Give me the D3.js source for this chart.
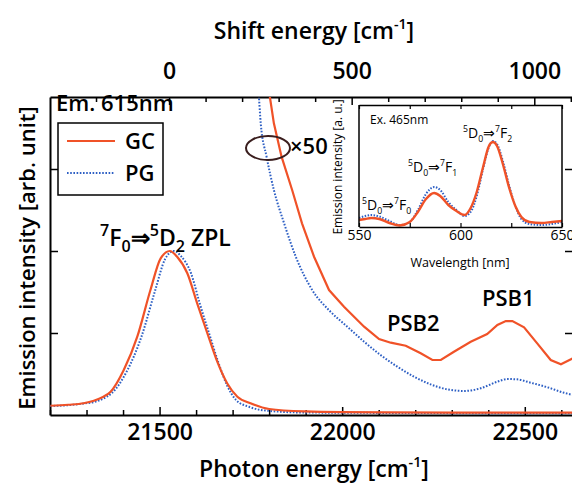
<!DOCTYPE html>
<html><head><meta charset="utf-8">
<script src="https://cdn.jsdelivr.net/npm/d3@7"></script>
<style>
html,body{margin:0;padding:0;background:#fff;}
svg{display:block;font-family:"Open Sans",sans-serif;font-weight:600;}
</style></head>
<body>
<svg id="c" width="572" height="485"></svg>
<script>
// ---- main plot data (photon energy cm^-1, intensity arb. unit) ----
const gcEnergy = [21201,21250,21292,21320,21345,21366,21402,21439,21475,21503,21528,21548,21576,21603,21631,21658,21685,21713,21749,21800,21900,22000,22300,22632];
const gcIntensity = [0.113,0.125,0.143,0.174,0.22,0.284,0.549,0.955,1.524,1.911,2.0,1.93,1.728,1.362,0.996,0.65,0.387,0.223,0.143,0.073,0.043,0.035,0.03,0.028];
const pgEnergy = [21201,21250,21292,21330,21350,21370,21410,21450,21488,21515,21539,21558,21586,21610,21636,21661,21685,21710,21745,21800,21900,22632];
const pgIntensity = [0.11,0.12,0.14,0.17,0.21,0.27,0.53,0.95,1.52,1.9,2.0,1.94,1.73,1.36,0.99,0.64,0.36,0.18,0.1,0.05,0.03,0.02];
// x50 magnified tails
const gc50Energy = [21790,21802,21813,21834,21863,21890,21923,21964,22005,22060,22101,22133,22174,22215,22247,22270,22306,22352,22397,22425,22448,22466,22498,22534,22571,22599,22632];
const gc50Intensity = [4.3,3.88,3.557,3.15,2.744,2.338,1.93,1.524,1.321,1.077,0.927,0.882,0.845,0.752,0.671,0.671,0.772,0.894,0.988,1.098,1.146,1.146,1.07,0.874,0.671,0.618,0.691];
const pg50Energy = [21762,21772,21777,21793,21813,21841,21873,21918,21968,22014,22060,22105,22151,22197,22242,22288,22334,22379,22425,22452,22479,22516,22562,22607,22632];
const pg50Intensity = [4.4,3.88,3.557,3.15,2.744,2.338,1.93,1.524,1.26,1.077,0.894,0.732,0.589,0.467,0.374,0.313,0.293,0.326,0.406,0.439,0.435,0.394,0.338,0.272,0.244];
const bottomTicks = [21500,22000,22500];
const topTicks = [0,500,1000];
const zplEnergy = 21526; // shift energy origin

// ---- inset data (wavelength nm, emission intensity a.u.) ----
const insetWavelength = [550,553,556,560,565,570,575,579,583,587,590,594,598,602,605,608,611,614,616,618,621,624,627,630,634,640,645,650];
const insetGC = [7,8,9,8,4,1.5,5,15,28,34,31,22,16,12,19,35,59,81,85,81,62,39,21,10,5,4,5,6];
const insetPG = [9,11,12,10.5,6,2,5,17,33,40,37,25,17,11,15,31,57,80,86,83,65,41,21,8,3,2,3,5];
const insetTicks = [550,600,650];

const RED = "#f05228", BLUE = "#2d5fc4";
const svg = d3.select("#c");

const L = 50, R = 573, T = 97, B = 415;
const x = d3.scaleLinear().domain([21200, 22632]).range([L, R]);
const xTop = d3.scaleLinear().domain([21200 - zplEnergy, 22632 - zplEnergy]).range([L, R]);
const y = d3.scaleLinear().domain([0, (B - T) / 82]).range([B, T]);

svg.append("defs").append("clipPath").attr("id", "clipMain")
  .append("rect").attr("x", L).attr("y", T).attr("width", R - L).attr("height", B - T);

// axes
const range100 = (a, b) => d3.range(Math.ceil(a / 100) * 100, b + 1, 100);
const gB = svg.append("g").attr("transform", `translate(0,${B})`)
  .call(d3.axisBottom(x).tickValues(range100(21200, 22632)).tickSizeInner(-5).tickSizeOuter(0).tickPadding(9)
    .tickFormat(d => bottomTicks.includes(d) ? d : ""));
gB.selectAll(".tick line").attr("y2", d => bottomTicks.includes(d) ? -8 : -5);
const gT = svg.append("g").attr("transform", `translate(0,${T})`)
  .call(d3.axisTop(xTop).tickValues(range100(21200 - zplEnergy, 22632 - zplEnergy)).tickSizeInner(-5).tickSizeOuter(0).tickPadding(18)
    .tickFormat(d => topTicks.includes(d) ? d : ""));
gT.selectAll(".tick line").attr("y2", d => topTicks.includes(d) ? 8 : 5);
const gL = svg.append("g").attr("transform", `translate(${L},0)`)
  .call(d3.axisLeft(y).tickValues([1, 2, 3]).tickSizeInner(-8).tickSizeOuter(0).tickFormat(""));
const gR = svg.append("g").attr("transform", `translate(${R},0)`)
  .call(d3.axisRight(y).tickValues([1, 2, 3]).tickSizeInner(-8).tickSizeOuter(0).tickFormat(""));
[gB, gT, gL, gR].forEach(g => {
  g.select(".domain").attr("stroke", "#000").attr("stroke-width", 2);
  g.selectAll(".tick line").attr("stroke", "#000").attr("stroke-width", 1.5);
  g.selectAll("text").attr("fill", "#000").attr("font-size", 23).attr("font-family", "'Open Sans',sans-serif").attr("font-weight", 600);
});
gT.selectAll("text").attr("dy", "0em");

// curves
const line = (xs, ys, sx, sy, curve) => d3.line().x(d => sx(d[0])).y(d => sy(d[1])).curve(curve || d3.curveLinear)(xs.map((v, i) => [v, ys[i]]));
const gC = svg.append("g").attr("clip-path", "url(#clipMain)");
gC.append("path").attr("d", line(pgEnergy, pgIntensity, x, y, d3.curveMonotoneX)).attr("fill", "none").attr("stroke", BLUE).attr("stroke-width", 2).attr("stroke-dasharray", "1.6,1.6");
gC.append("path").attr("d", line(pg50Energy, pg50Intensity, x, y, d3.curveMonotoneX)).attr("fill", "none").attr("stroke", BLUE).attr("stroke-width", 2).attr("stroke-dasharray", "1.6,1.6");
gC.append("path").attr("d", line(gcEnergy, gcIntensity, x, y, d3.curveMonotoneX)).attr("fill", "none").attr("stroke", RED).attr("stroke-width", 2.2);
gC.append("path").attr("d", line(gc50Energy, gc50Intensity, x, y)).attr("fill", "none").attr("stroke", RED).attr("stroke-width", 2.2);

// rich text helper
function rich(g, px, py, size, parts, opts = {}) {
  const t = g.append("text").attr("x", px).attr("y", py).attr("font-size", size).attr("fill", "#000");
  if (opts.anchor) t.attr("text-anchor", opts.anchor);
  if (opts.weight) t.attr("font-weight", opts.weight);
  const r = opts.ratio || 0.62;
  let cur = 0;
  parts.forEach(([s, k]) => {
    const off = k === "sup" ? -0.42 * size : k === "sub" ? 0.25 * size : 0;
    const ts = t.append("tspan").text(s).attr("dy", off - cur);
    if (k !== "n") ts.attr("font-size", size * r);
    cur = off;
  });
  return t;
}

// axis titles
rich(svg, 314, 39, 23, [["Shift energy [cm", "n"], ["-1", "sup"], ["]", "n"]], { anchor: "middle" });
rich(svg, 314, 477, 23, [["Photon energy [cm", "n"], ["-1", "sup"], ["]", "n"]], { anchor: "middle" });
svg.append("text").attr("transform", "translate(35,258) rotate(-90)").attr("text-anchor", "middle")
  .attr("font-size", 22).text("Emission intensity [arb. unit]");

// labels
svg.append("text").attr("x", 56).attr("y", 111).attr("font-size", 22).text("Em. 615nm");
svg.append("rect").attr("x", 58).attr("y", 123).attr("width", 105).attr("height", 72).attr("fill", "none").attr("stroke", "#000").attr("stroke-width", 1.5);
svg.append("line").attr("x1", 67).attr("x2", 115).attr("y1", 141).attr("y2", 141).attr("stroke", RED).attr("stroke-width", 2.2);
svg.append("line").attr("x1", 67).attr("x2", 115).attr("y1", 173).attr("y2", 173).attr("stroke", BLUE).attr("stroke-width", 2).attr("stroke-dasharray", "1.6,1.6");
svg.append("text").attr("x", 125).attr("y", 149).attr("font-size", 22).text("GC");
svg.append("text").attr("x", 125).attr("y", 181).attr("font-size", 22).text("PG");

rich(svg, 100, 246, 23, [["7", "sup"], ["F", "n"], ["0", "sub"], ["⇒", "n"], ["5", "sup"], ["D", "n"], ["2", "sub"], [" ZPL", "n"]], { ratio: 0.7 });
svg.append("text").attr("x", 387).attr("y", 331).attr("font-size", 22).text("PSB2");
svg.append("text").attr("x", 482).attr("y", 306).attr("font-size", 22).text("PSB1");
svg.append("ellipse").attr("cx", 268).attr("cy", 148).attr("rx", 22).attr("ry", 12).attr("fill", "none").attr("stroke", "#3a1e1e").attr("stroke-width", 2);
svg.append("text").attr("x", 290).attr("y", 154).attr("font-size", 22).text("×50");

// ---- inset ----
const IL = 359, IR = 562, IT = 105, IB = 227;
const xi = d3.scaleLinear().domain([550, 650]).range([IL, IR]);
const yi = d3.scaleLinear().domain([0, 122]).range([IB, IT]);
const gI = svg.append("g");
gI.append("rect").attr("x", IL).attr("y", IT).attr("width", IR - IL).attr("height", IB - IT).attr("fill", "#fff");
gI.append("defs").append("clipPath").attr("id", "clipIn").append("rect").attr("x", IL).attr("y", IT).attr("width", IR - IL).attr("height", IB - IT + 2);
const gIC = gI.append("g").attr("clip-path", "url(#clipIn)");
gIC.append("path").attr("d", line(insetWavelength, insetPG, xi, yi, d3.curveMonotoneX)).attr("fill", "none").attr("stroke", BLUE).attr("stroke-width", 2).attr("stroke-dasharray", "1.5,1.5");
gIC.append("path").attr("d", line(insetWavelength, insetGC, xi, yi, d3.curveMonotoneX)).attr("fill", "none").attr("stroke", RED).attr("stroke-width", 2.4);
const giB = gI.append("g").attr("transform", `translate(0,${IB})`)
  .call(d3.axisBottom(xi).tickValues([550, 575, 600, 625, 650]).tickSizeInner(-4).tickSizeOuter(0).tickPadding(3)
    .tickFormat(d => insetTicks.includes(d) ? d : ""));
const giT = gI.append("g").attr("transform", `translate(0,${IT})`)
  .call(d3.axisTop(xi).tickValues([550, 575, 600, 625, 650]).tickSizeInner(-4).tickSizeOuter(0).tickFormat(""));
[giB, giT].forEach(g => {
  g.select(".domain").attr("stroke", "#000").attr("stroke-width", 1.5);
  g.selectAll(".tick line").attr("stroke", "#000").attr("stroke-width", 1.2);
  g.selectAll("text").attr("fill", "#000").attr("font-size", 14).attr("font-family", "'Open Sans',sans-serif").attr("font-weight", 500);
});
gI.append("line").attr("x1", IL).attr("x2", IL).attr("y1", IT).attr("y2", IB).attr("stroke", "#000").attr("stroke-width", 1.5);
gI.append("line").attr("x1", IR).attr("x2", IR).attr("y1", IT).attr("y2", IB).attr("stroke", "#000").attr("stroke-width", 1.5);
gI.append("text").attr("x", 460).attr("y", 267).attr("text-anchor", "middle").attr("font-size", 12.5).attr("font-weight", 500).text("Wavelength [nm]");
gI.append("text").attr("transform", "translate(342,167) rotate(-90)").attr("text-anchor", "middle").attr("font-size", 12).attr("font-weight", 500).text("Emission intensity [a. u.]");
gI.append("text").attr("x", 370).attr("y", 124).attr("font-size", 12).attr("font-weight", 500).text("Ex. 465nm");
rich(gI, 463, 138, 14, [["5", "sup"], ["D", "n"], ["0", "sub"], ["⇒", "n"], ["7", "sup"], ["F", "n"], ["2", "sub"]], { weight: 500 });
rich(gI, 408, 172, 14, [["5", "sup"], ["D", "n"], ["0", "sub"], ["⇒", "n"], ["7", "sup"], ["F", "n"], ["1", "sub"]], { weight: 500 });
rich(gI, 362, 210, 14, [["5", "sup"], ["D", "n"], ["0", "sub"], ["⇒", "n"], ["7", "sup"], ["F", "n"], ["0", "sub"]], { weight: 500 });
</script>
</body></html>
